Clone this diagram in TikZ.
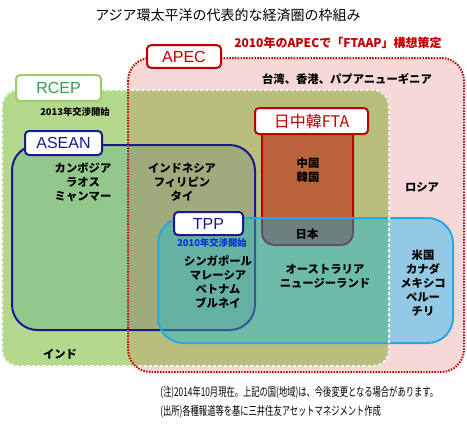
\documentclass[tikz,border=0pt]{standalone}
\usepackage{fontspec}
\newfontfamily\jp{Noto Sans CJK JP}
\newfontfamily\lat{Liberation Sans}
\definecolor{pinkC}{HTML}{F7D8D8}
\definecolor{greenC}{HTML}{B4D98C}
\definecolor{oliveC}{HTML}{B8BE7B}
\definecolor{aseanG}{HTML}{93C88D}
\definecolor{aseanO}{HTML}{9FAB7D}
\definecolor{tppB}{HTML}{93C9E4}
\definecolor{tppT}{HTML}{6DBBA9}
\definecolor{tppA}{HTML}{65B1A4}
\definecolor{ftaBr}{HTML}{B9623C}
\definecolor{ftaGr}{HTML}{6E7F80}
\definecolor{apecRed}{HTML}{C00000}
\definecolor{rcepLine}{HTML}{F2F6EA}
\definecolor{navyC}{HTML}{1A1A8C}
\definecolor{navyDim}{HTML}{355A95}
\definecolor{tppLine}{HTML}{2BA8E0}
\definecolor{ftaDim}{HTML}{5E5068}
\definecolor{rcepText}{HTML}{3A9A50}
\definecolor{rcepBox}{HTML}{9BCB6B}
\definecolor{yearBlue}{HTML}{0033CC}
\begin{document}
\begin{tikzpicture}[x=0.75pt,y=-0.75pt,
  txt/.style={font=\jp\bfseries\fontsize{8.5}{10.5}\selectfont, align=center, inner sep=0pt, text=black},
  small/.style={font=\jp\bfseries\fontsize{7}{8}\selectfont, inner sep=0pt},
  note/.style={font=\jp\fontsize{9}{10}\selectfont, inner sep=0pt, anchor=west},
  lbl/.style={fill=white, rounded corners=3pt, line width=1.5pt, inner sep=0pt, font=\lat\fontsize{12}{12}\selectfont},
  apecR/.style={rounded corners=17pt},
  rcepR/.style={rounded corners=12pt},
  aseanR/.style={rounded corners=19pt},
  tppR/.style={rounded corners=19pt}]
\useasboundingbox (0,0) rectangle (467,426);
\fill[white] (0,0) rectangle (467,426);
% region corners
\coordinate (apecNW) at (128,58);  \coordinate (apecSE) at (464,372);
\coordinate (rcepNW) at (2,90);    \coordinate (rcepSE) at (389,366);
\coordinate (aseanNW) at (12,145); \coordinate (aseanSE) at (255,330);
\coordinate (tppNW) at (158,218);  \coordinate (tppSE) at (453,343);
% APEC and RCEP fills
\fill[pinkC, apecR] (apecNW) rectangle (apecSE);
\fill[greenC, rcepR] (rcepNW) rectangle (rcepSE);
\begin{scope}
  \clip[apecR] (apecNW) rectangle (apecSE);
  \fill[oliveC, rcepR] (rcepNW) rectangle (rcepSE);
\end{scope}
% ASEAN fill
\fill[aseanG, aseanR] (aseanNW) rectangle (aseanSE);
\begin{scope}
  \clip[apecR] (apecNW) rectangle (apecSE);
  \fill[aseanO, aseanR] (aseanNW) rectangle (aseanSE);
\end{scope}
% FTA box
\fill[ftaBr, rounded corners=9pt] (262,110) -- (262,245) -- (353,245) -- (353,110) -- cycle;
\draw[apecRed, line width=1.5pt, rounded corners=9pt] (262,120) -- (262,245) -- (353,245) -- (353,120);
\draw[navyC, line width=1.5pt, aseanR] (aseanNW) rectangle (aseanSE);
% TPP fill
\fill[tppB, tppR] (tppNW) rectangle (tppSE);
\begin{scope}
  \clip[rcepR] (rcepNW) rectangle (rcepSE);
  \fill[tppT, tppR] (tppNW) rectangle (tppSE);
\end{scope}
\begin{scope}
  \clip[tppR] (tppNW) rectangle (tppSE);
  \fill[tppA, aseanR] (aseanNW) rectangle (aseanSE);
  \fill[ftaGr, rounded corners=9pt] (262,110) -- (262,245) -- (353,245) -- (353,110) -- cycle;
  \draw[ftaDim, line width=1.5pt, rounded corners=9pt] (262,120) -- (262,245) -- (353,245) -- (353,120);
  \draw[navyDim, line width=1.5pt, aseanR] (aseanNW) rectangle (aseanSE);
\end{scope}
\draw[tppLine, line width=1.5pt, tppR] (tppNW) rectangle (tppSE);
% borders of APEC and RCEP
\draw[rcepLine, line width=1.5pt, dash pattern=on 2.5pt off 1.5pt, rcepR] (rcepNW) rectangle (rcepSE);
\draw[apecRed, line width=1.5pt, dash pattern=on 1.1pt off 1pt, apecR] (apecNW) rectangle (apecSE);
% label boxes
\node[lbl, draw=apecRed, text=apecRed, minimum width=55.5pt, minimum height=17pt] (apec) at (184,56.5) {APEC};
\node[lbl, draw=rcepBox, text=rcepText, minimum width=63.75pt, minimum height=19.5pt] (rcep) at (58.5,88) {RCEP};
\node[lbl, draw=navyC, text=navyC, minimum width=57.75pt, minimum height=18pt] (asean) at (63.5,143) {ASEAN};
\node[lbl, draw=navyC, text=navyC, minimum width=51.75pt, minimum height=17.25pt] (tpp) at (208.5,223.5) {TPP};
\node[lbl, draw=apecRed, text=apecRed, minimum width=84.75pt, minimum height=19.5pt, font=\jp\fontsize{12}{12}\selectfont] (fta) at (311.5,121) {日中韓FTA};
% texts
\node[font=\jp\fontsize{10.5}{12}\selectfont, inner sep=0pt] (title) at (228,15) {アジア環太平洋の代表的な経済圏の枠組み};
\node[font=\jp\bfseries\fontsize{9}{10}\selectfont, text=apecRed, inner sep=0pt] (ftaap) at (338,43) {2010年のAPECで「FTAAP」構想策定};
\node[txt] (taiwan) at (347,79) {台湾、香港、パプアニューギニア};
\node[small] (rcepyear) at (75,112) {2013年交渉開始};
\node[txt] (cambodia) at (83,182) {カンボジア\\ラオス\\ミャンマー};
\node[txt] (indonesia) at (182,182) {インドネシア\\フィリピン\\タイ};
\node[txt] (china) at (308,170.5) {中国\\韓国};
\node[txt] (russia) at (422,187) {ロシア};
\node[txt] (japan) at (307,234) {日本};
\node[small, text=yearBlue] (tppyear) at (212,243) {2010年交渉開始};
\node[txt] (singapore) at (218,282) {シンガポール\\マレーシア\\ベトナム\\ブルネイ};
\node[txt] (australia) at (325,276.5) {オーストラリア\\ニュージーランド};
\node[txt] (usa) at (423,283) {米国\\カナダ\\メキシコ\\ペルー\\チリ};
\node[txt] (india) at (60,354) {インド};
\node[note] (note1) at (160,393) {\scalebox{0.69}[1]{(注)2014年10月現在。上記の国(地域)は、今後変更となる場合があります。}};
\node[note] (note2) at (160,412) {\scalebox{0.69}[1]{(出所)各種報道等を基に三井住友アセットマネジメント作成}};
\end{tikzpicture}
\end{document}
